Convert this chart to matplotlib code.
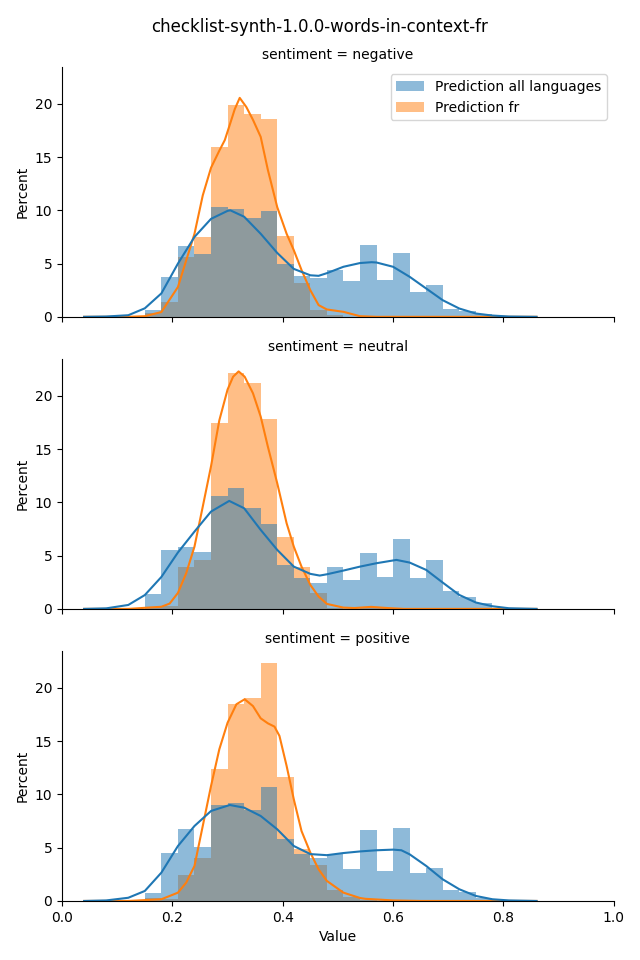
import matplotlib
matplotlib.use("Agg")
import matplotlib.pyplot as plt
import numpy as np

# histogram bins (percent per bin), bin width 0.03 starting at 0.15
bin_edges = np.round(np.arange(0.15, 0.78 + 0.001, 0.03), 3)
sentiments = ["negative", "neutral", "positive"]
series_names = ["Prediction all languages", "Prediction fr"]

neg_all = [0.63, 3.72, 6.63, 5.88, 10.33, 10.1, 9.26, 9.92, 4.98, 3.82, 3.66,
           4.38, 3.38, 6.73, 3.44, 5.98, 2.35, 2.97, 0.75, 0.53, 0.25]
neg_fr = [0.4, 1.38, 5.6, 7.48, 15.93, 19.9, 19.06, 18.56, 7.6, 3.19, 0.66,
          0.15, 0, 0.1, 0, 0, 0, 0, 0, 0, 0]
neu_all = [1.41, 5.54, 5.82, 5.35, 10.64, 11.36, 9.48, 8.01, 4.13, 2.94, 2.44,
           3.94, 2.72, 5.26, 3.0, 6.57, 2.91, 4.6, 1.69, 1.13, 0.6]
neu_fr = [0.22, 0.28, 3.94, 4.6, 17.5, 22.19, 21.22, 17.84, 6.76, 3.94, 1.5,
          0.1, 0, 0.15, 0.1, 0, 0, 0, 0, 0, 0]
pos_all = [0.72, 4.48, 6.73, 5.1, 9.01, 9.23, 8.58, 10.67, 5.79, 4.38, 4.0,
           4.38, 2.97, 6.64, 2.79, 6.82, 2.6, 3.07, 1.03, 0.81, 0.25]
pos_fr = [0.25, 0.2, 2.41, 4.0, 12.36, 18.47, 19.03, 22.32, 11.64, 4.85, 3.35,
          1.0, 0.38, 0.1, 0, 0, 0, 0, 0, 0, 0]

# density curves (x, percent)
neg_kde_all_x = [0.04, 0.08, 0.12, 0.15, 0.18, 0.21, 0.24, 0.27, 0.30, 0.305, 0.33, 0.36,
                 0.39, 0.42, 0.45, 0.465, 0.48, 0.51, 0.54, 0.561, 0.57, 0.60, 0.63,
                 0.66, 0.69, 0.72, 0.75, 0.78, 0.81, 0.86]
neg_kde_all_y = [0, 0.03, 0.15, 0.8, 2.2, 5.0, 7.5, 9.2, 9.95, 10.0, 9.4, 7.8,
                 6.0, 4.5, 3.9, 3.85, 4.1, 4.7, 5.05, 5.13, 5.1, 4.7, 3.76,
                 2.66, 1.56, 0.78, 0.31, 0.12, 0.03, 0]
neg_kde_fr_x = [0.04, 0.12, 0.15, 0.18, 0.21, 0.225, 0.24, 0.255, 0.27, 0.285, 0.295,
                0.305, 0.313, 0.322, 0.334, 0.346, 0.36, 0.373, 0.39, 0.407, 0.42,
                0.434, 0.45, 0.465, 0.48, 0.51, 0.54, 0.57, 0.86]
neg_kde_fr_y = [0, 0, 0.06, 0.45, 2.8, 5.3, 7.8, 11.4, 14.0, 15.6, 16.6,
                18.2, 19.5, 20.56, 19.7, 18.5, 16.9, 13.8, 10.3, 7.8, 6.26,
                4.4, 2.5, 1.1, 0.69, 0.47, 0.06, 0, 0]
neu_kde_all_x = [0.04, 0.08, 0.12, 0.15, 0.18, 0.21, 0.24, 0.27, 0.303, 0.33, 0.36,
                 0.39, 0.42, 0.45, 0.467, 0.48, 0.51, 0.54, 0.57, 0.606, 0.63, 0.66,
                 0.69, 0.72, 0.75, 0.78, 0.81, 0.86]
neu_kde_all_y = [0, 0.05, 0.37, 1.3, 3.0, 5.3, 7.26, 9.14, 10.14, 9.45, 7.42,
                 5.54, 3.97, 3.29, 3.13, 3.25, 3.6, 3.97, 4.29, 4.6, 4.35, 3.66,
                 2.47, 1.31, 0.6, 0.25, 0.06, 0]
neu_kde_fr_x = [0.04, 0.12, 0.18, 0.195, 0.21, 0.225, 0.24, 0.255, 0.27, 0.285, 0.30,
                0.31, 0.32, 0.331, 0.346, 0.36, 0.373, 0.39, 0.407, 0.42, 0.434,
                0.45, 0.465, 0.48, 0.51, 0.53, 0.56, 0.59, 0.62, 0.86]
neu_kde_fr_y = [0, 0, 0.2, 0.5, 1.5, 3.35, 5.85, 9.6, 13.4, 17.7, 20.6,
                21.8, 22.3, 21.8, 20.25, 18.06, 15.24, 11.8, 8.04, 5.85, 3.97,
                2.25, 1.16, 0.47, 0.12, 0.08, 0.19, 0.08, 0, 0]
pos_kde_all_x = [0.04, 0.08, 0.12, 0.15, 0.18, 0.21, 0.24, 0.27, 0.304, 0.33, 0.36,
                 0.39, 0.42, 0.45, 0.48, 0.51, 0.54, 0.57, 0.60, 0.615, 0.63, 0.66,
                 0.69, 0.72, 0.75, 0.78, 0.81, 0.86]
pos_kde_all_y = [0, 0.05, 0.3, 0.94, 2.66, 5.16, 7.04, 8.45, 9.01, 8.76, 7.98,
                 6.73, 5.16, 4.4, 4.3, 4.5, 4.65, 4.76, 4.82, 4.76, 4.38, 3.29,
                 2.03, 1.1, 0.47, 0.16, 0.05, 0]
pos_kde_fr_x = [0.04, 0.12, 0.18, 0.21, 0.225, 0.24, 0.255, 0.27, 0.285, 0.30, 0.316,
                0.331, 0.346, 0.36, 0.373, 0.385, 0.394, 0.407, 0.42, 0.434, 0.45,
                0.465, 0.48, 0.51, 0.54, 0.55, 0.60, 0.65, 0.86]
pos_kde_fr_y = [0, 0, 0.16, 0.78, 1.72, 3.29, 7.04, 10.8, 14.24, 16.74, 18.47,
                18.94, 18.3, 17.15, 16.68, 16.37, 15.5, 12.68, 9.55, 6.57, 4.54,
                2.97, 1.88, 0.78, 0.28, 0.2, 0.05, 0, 0]

panels = [
    (neg_all, neg_fr, neg_kde_all_x, neg_kde_all_y, neg_kde_fr_x, neg_kde_fr_y),
    (neu_all, neu_fr, neu_kde_all_x, neu_kde_all_y, neu_kde_fr_x, neu_kde_fr_y),
    (pos_all, pos_fr, pos_kde_all_x, pos_kde_all_y, pos_kde_fr_x, pos_kde_fr_y),
]

c_all = "#1f77b4"
c_fr = "#ff7f0e"

fig, axes = plt.subplots(3, 1, sharex=True, sharey=True, figsize=(6.4, 9.6), dpi=100)
fig.subplots_adjust(left=0.097, right=0.959, bottom=0.0615, top=0.930, hspace=0.17)

width = 0.03
for ax, sent, (h_all, h_fr, kax, kay, kfx, kfy) in zip(axes, sentiments, panels):
    # fr drawn first so the overlap comes out grey like seaborn's
    ax.bar(bin_edges[:-1], h_fr, width=width, align="edge", color=c_fr,
           alpha=0.5, linewidth=0, label=series_names[1])
    ax.bar(bin_edges[:-1], h_all, width=width, align="edge", color=c_all,
           alpha=0.5, linewidth=0, label=series_names[0])
    ax.plot(kfx, kfy, color=c_fr, lw=1.5)
    ax.plot(kax, kay, color=c_all, lw=1.5)
    ax.set_title(f"sentiment = {sent}", fontsize=10)
    ax.set_ylabel("Percent")
    ax.spines["top"].set_visible(False)
    ax.spines["right"].set_visible(False)
    ax.tick_params(labelbottom=(ax is axes[-1]))

axes[0].set_xlim(0, 1)
axes[0].set_ylim(0, 23.44)
axes[0].set_yticks([0, 5, 10, 15, 20])
axes[-1].set_xlabel("Value")

handles, labels = axes[0].get_legend_handles_labels()
axes[0].legend(handles[::-1], labels[::-1], loc="upper right")

fig.suptitle("checklist-synth-1.0.0-words-in-context-fr", fontsize=12, y=0.981)
fig.savefig("out.png")
